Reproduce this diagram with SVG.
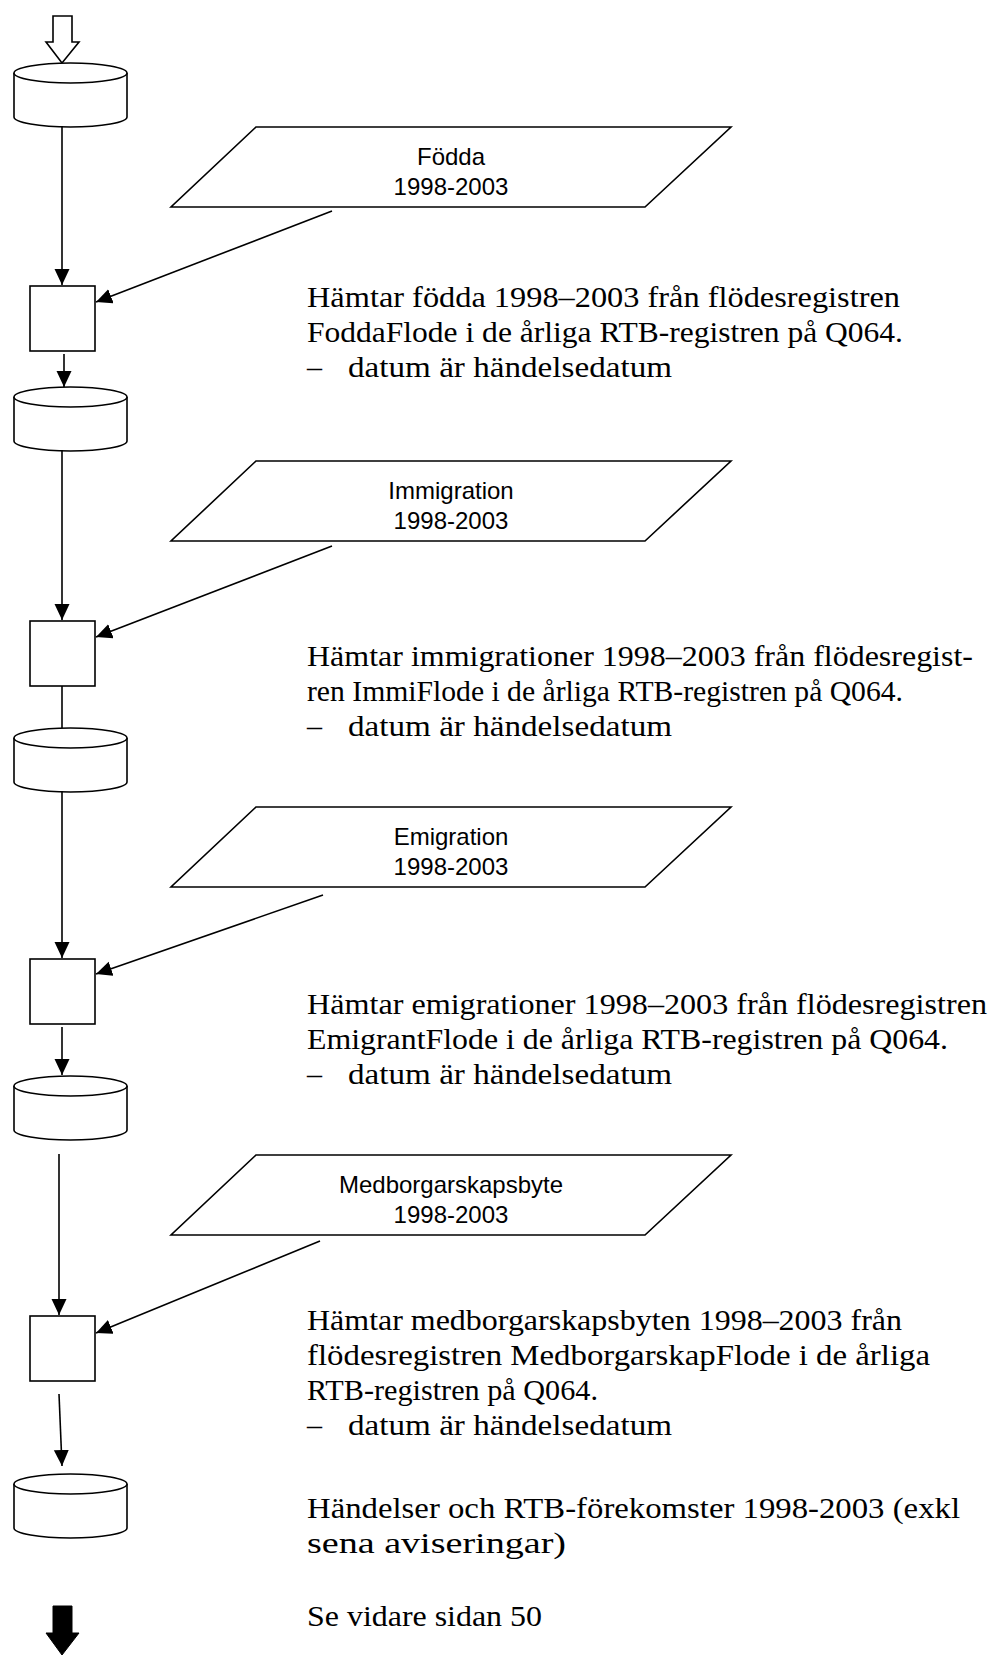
<svg xmlns="http://www.w3.org/2000/svg" width="992" height="1655" viewBox="0 0 992 1655">
<defs>
<style>
.sh{fill:#fff;stroke:#000;stroke-width:1.6}
.cn{fill:none;stroke:#000;stroke-width:1.6}
.lab{font-family:"Liberation Sans",Arial,sans-serif;font-size:24px;fill:#000;text-anchor:middle}
.tx{font-family:"Liberation Serif","Times New Roman",serif;font-size:30px;fill:#000}
</style>
<marker id="ah" markerUnits="userSpaceOnUse" markerWidth="17" markerHeight="16" refX="16" refY="7.5" orient="auto">
<path d="M0,0 L16,7.5 L0,15 z" fill="#000"/>
</marker>
<g id="cyl">
<path class="sh" d="M14,10 L14,54 A56.5,10 0 0 0 127,54 L127,10"/>
<ellipse class="sh" cx="70.5" cy="10" rx="56.5" ry="10"/>
</g>
<path id="para" class="sh" d="M256,0 L731,0 L645,80 L171,80 Z"/>
</defs>

<g id="start-arrow">
<path class="sh" d="M53,16 L72,16 L72,42 L79,42 L62,63 L46,42 L53,42 Z"/>
</g>

<g id="db1"><use href="#cyl" y="63"/></g>
<g id="db2"><use href="#cyl" y="387"/></g>
<g id="db3"><use href="#cyl" y="728"/></g>
<g id="db4"><use href="#cyl" y="1076"/></g>
<g id="db5"><use href="#cyl" y="1474"/></g>

<g id="proc1"><rect class="sh" x="30" y="286" width="65" height="65"/></g>
<g id="proc2"><rect class="sh" x="30" y="621" width="65" height="65"/></g>
<g id="proc3"><rect class="sh" x="30" y="959" width="65" height="65"/></g>
<g id="proc4"><rect class="sh" x="30" y="1316" width="65" height="65"/></g>

<g id="in1"><use href="#para" y="127"/>
<text class="lab" x="451" y="165">Födda</text><text class="lab" x="451" y="195">1998-2003</text></g>
<g id="in2"><use href="#para" y="461"/>
<text class="lab" x="451" y="499">Immigration</text><text class="lab" x="451" y="529">1998-2003</text></g>
<g id="in3"><use href="#para" y="807"/>
<text class="lab" x="451" y="845">Emigration</text><text class="lab" x="451" y="875">1998-2003</text></g>
<g id="in4"><use href="#para" y="1155"/>
<text class="lab" x="451" y="1193">Medborgarskapsbyte</text><text class="lab" x="451" y="1223">1998-2003</text></g>

<g id="end-arrow">
<path fill="#000" stroke="#000" stroke-width="1" d="M53,1606 L72,1606 L72,1633 L79,1633 L62,1655 L46,1633 L53,1633 Z"/>
</g>

<g id="connectors">
<line class="cn" x1="62" y1="126" x2="62" y2="285" marker-end="url(#ah)"/>
<line class="cn" x1="332" y1="211" x2="96" y2="302" marker-end="url(#ah)"/>
<line class="cn" x1="64" y1="354" x2="64" y2="387" marker-end="url(#ah)"/>
<line class="cn" x1="62" y1="450" x2="62" y2="620" marker-end="url(#ah)"/>
<line class="cn" x1="332" y1="546" x2="96" y2="637" marker-end="url(#ah)"/>
<line class="cn" x1="62" y1="686" x2="62" y2="728"/>
<line class="cn" x1="62" y1="791" x2="62" y2="958" marker-end="url(#ah)"/>
<line class="cn" x1="323" y1="895" x2="96" y2="974" marker-end="url(#ah)"/>
<line class="cn" x1="62" y1="1027" x2="62" y2="1075" marker-end="url(#ah)"/>
<line class="cn" x1="59" y1="1154" x2="59" y2="1315" marker-end="url(#ah)"/>
<line class="cn" x1="320" y1="1241" x2="96" y2="1333" marker-end="url(#ah)"/>
<line class="cn" x1="59" y1="1394" x2="62" y2="1466" marker-end="url(#ah)"/>
</g>

<g id="desc1">
<text class="tx" x="307" y="307" textLength="593" lengthAdjust="spacingAndGlyphs">Hämtar födda 1998–2003 från flödesregistren</text>
<text class="tx" x="307" y="342" textLength="596" lengthAdjust="spacingAndGlyphs">FoddaFlode i de årliga RTB-registren på Q064.</text>
<text class="tx" x="307" y="377">–</text>
<text class="tx" x="348" y="377" textLength="324" lengthAdjust="spacingAndGlyphs">datum är händelsedatum</text>
</g>
<g id="desc2">
<text class="tx" x="307" y="666" textLength="666" lengthAdjust="spacingAndGlyphs">Hämtar immigrationer 1998–2003 från flödesregist-</text>
<text class="tx" x="307" y="701" textLength="596" lengthAdjust="spacingAndGlyphs">ren ImmiFlode i de årliga RTB-registren på Q064.</text>
<text class="tx" x="307" y="736">–</text>
<text class="tx" x="348" y="736" textLength="324" lengthAdjust="spacingAndGlyphs">datum är händelsedatum</text>
</g>
<g id="desc3">
<text class="tx" x="307" y="1014" textLength="680" lengthAdjust="spacingAndGlyphs">Hämtar emigrationer 1998–2003 från flödesregistren</text>
<text class="tx" x="307" y="1049" textLength="641" lengthAdjust="spacingAndGlyphs">EmigrantFlode i de årliga RTB-registren på Q064.</text>
<text class="tx" x="307" y="1084">–</text>
<text class="tx" x="348" y="1084" textLength="324" lengthAdjust="spacingAndGlyphs">datum är händelsedatum</text>
</g>
<g id="desc4">
<text class="tx" x="307" y="1330" textLength="595" lengthAdjust="spacingAndGlyphs">Hämtar medborgarskapsbyten 1998–2003 från</text>
<text class="tx" x="307" y="1365" textLength="623" lengthAdjust="spacingAndGlyphs">flödesregistren MedborgarskapFlode i de årliga</text>
<text class="tx" x="307" y="1400" textLength="291" lengthAdjust="spacingAndGlyphs">RTB-registren på Q064.</text>
<text class="tx" x="307" y="1435">–</text>
<text class="tx" x="348" y="1435" textLength="324" lengthAdjust="spacingAndGlyphs">datum är händelsedatum</text>
</g>
<g id="desc5">
<text class="tx" x="307" y="1518" textLength="653" lengthAdjust="spacingAndGlyphs">Händelser och RTB-förekomster 1998-2003 (exkl</text>
<text class="tx" x="307" y="1553" textLength="259" lengthAdjust="spacingAndGlyphs">sena aviseringar)</text>
</g>
<g id="desc6">
<text class="tx" x="307" y="1626" textLength="235" lengthAdjust="spacingAndGlyphs">Se vidare sidan 50</text>
</g>
</svg>
